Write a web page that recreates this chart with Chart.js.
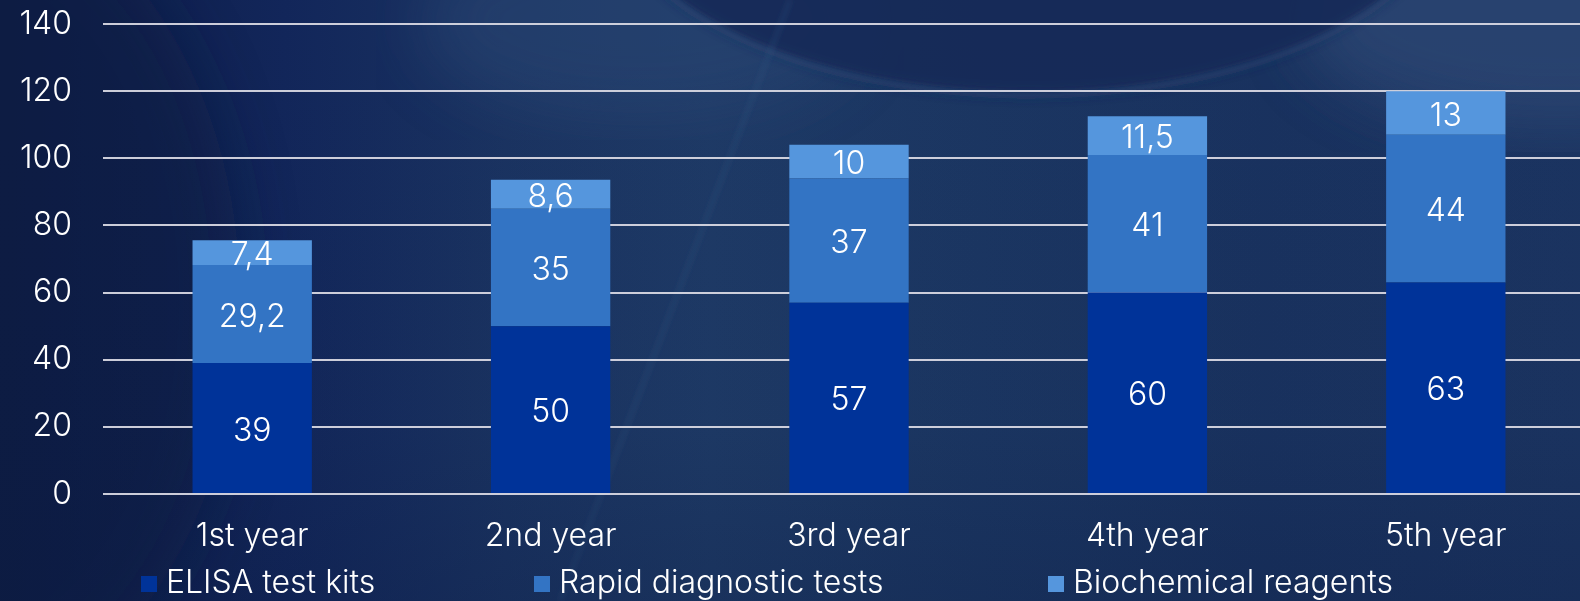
<!DOCTYPE html>
<html>
<head>
<meta charset="utf-8">
<script src="https://cdn.jsdelivr.net/npm/chart.js@4"></script>
<style>
  html, body { margin: 0; padding: 0; width: 1580px; height: 601px; overflow: hidden; background: #132858; }
  #bg { position: absolute; left: 0; top: 0; }
  #wrap { position: absolute; left: 0; top: 0; width: 1600px; height: 601px; }
</style>
</head>
<body>
<svg id="bg" width="1580" height="601" viewBox="0 0 1580 601">
  <defs>
    <linearGradient id="base" x1="0" y1="0" x2="1" y2="0">
      <stop offset="0" stop-color="#0e1c45"/>
      <stop offset="0.18" stop-color="#12265a"/>
      <stop offset="0.32" stop-color="#1a3361"/>
      <stop offset="0.45" stop-color="#1e3a66"/>
      <stop offset="0.62" stop-color="#1b3662"/>
      <stop offset="0.8" stop-color="#19325f"/>
      <stop offset="1" stop-color="#1b3461"/>
    </linearGradient>
    <linearGradient id="vshade" x1="0" y1="0" x2="0" y2="1">
      <stop offset="0" stop-color="#0b1a40" stop-opacity="0"/>
      <stop offset="0.7" stop-color="#0b1a40" stop-opacity="0.05"/>
      <stop offset="1" stop-color="#0b1a40" stop-opacity="0.25"/>
    </linearGradient>
    <filter id="b6"><feGaussianBlur stdDeviation="6"/></filter>
    <filter id="b30"><feGaussianBlur stdDeviation="30"/></filter>
    <filter id="b3"><feGaussianBlur stdDeviation="2.5"/></filter>
  </defs>
  <rect width="1580" height="601" fill="url(#base)"/>
  <ellipse cx="640" cy="20" rx="220" ry="100" fill="#2a4774" opacity="0.5" filter="url(#b30)"/>
  <ellipse cx="1560" cy="20" rx="260" ry="110" fill="#2d4a76" opacity="0.7" filter="url(#b30)"/>
  <ellipse cx="1030" cy="-110" rx="420" ry="205" fill="#132a59" opacity="0.92" filter="url(#b6)"/>
  <ellipse cx="1030" cy="-110" rx="420" ry="205" fill="none" stroke="#4c6a96" stroke-opacity="0.3" stroke-width="4" filter="url(#b3)"/>
  <line x1="790" y1="0" x2="560" y2="601" stroke="#3a5a88" stroke-opacity="0.22" stroke-width="5" filter="url(#b3)"/>
  <ellipse cx="-60" cy="300" rx="300" ry="420" fill="#0c1a42" opacity="0.55" filter="url(#b30)"/>
  <rect width="1580" height="601" fill="url(#vshade)"/>
</svg>
<div id="wrap"><canvas id="c" width="1600" height="601"></canvas></div>
<script>
const categories = ['1st year', '2nd year', '3rd year', '4th year', '5th year'];
const seriesNames = ['ELISA test kits', 'Rapid diagnostic tests', 'Biochemical reagents'];
const elisa = [39, 50, 57, 60, 63];
const rapid = [29.2, 35, 37, 41, 44];
const biochem = [7.4, 8.6, 10, 11.5, 13];
const yTicks = [0, 20, 40, 60, 80, 100, 120, 140];

const colors = ['#003399', '#3374C4', '#5596DD'];
const FONT = 'Inter, "DejaVu Sans", sans-serif';
const FSIZE = 32;
const FWEIGHT = '300';
const fmt = v => String(v).replace('.', ',');

const valueLabels = {
  id: 'valueLabels',
  afterDatasetsDraw(chart) {
    const ctx = chart.ctx;
    ctx.save();
    ctx.fillStyle = '#ffffff';
    ctx.font = FWEIGHT + ' ' + FSIZE + 'px ' + FONT;
    ctx.textAlign = 'center';
    ctx.textBaseline = 'middle';
    chart.data.datasets.forEach((ds, di) => {
      const meta = chart.getDatasetMeta(di);
      meta.data.forEach((el, i) => {
        const p = el.getProps(['x', 'y', 'base'], true);
        ctx.fillText(fmt(ds.data[i]), p.x, (p.y + p.base) / 2 + 3);
      });
    });
    ctx.restore();
  }
};

const legendBoxX = [141, 534, 1048];
const customLegend = {
  id: 'customLegend',
  afterDraw(chart) {
    const ctx = chart.ctx;
    ctx.save();
    ctx.font = FWEIGHT + ' ' + FSIZE + 'px ' + FONT;
    ctx.textBaseline = 'alphabetic';
    ctx.textAlign = 'left';
    chart.data.datasets.forEach((ds, i) => {
      const x = legendBoxX[i];
      ctx.fillStyle = ds.backgroundColor;
      ctx.fillRect(x, 576, 16, 16);
      ctx.fillStyle = '#ffffff';
      ctx.fillText(ds.label, x + 25, 593);
    });
    ctx.restore();
  }
};

new Chart(document.getElementById('c'), {
  type: 'bar',
  data: {
    labels: categories,
    datasets: [
      { label: seriesNames[0], data: elisa, backgroundColor: colors[0] },
      { label: seriesNames[1], data: rapid, backgroundColor: colors[1] },
      { label: seriesNames[2], data: biochem, backgroundColor: colors[2] }
    ]
  },
  options: {
    responsive: false,
    devicePixelRatio: 1,
    animation: false,
    layout: { padding: { top: 24, right: 5, bottom: 48, left: 0 } },
    datasets: { bar: { barPercentage: 0.4, categoryPercentage: 1.0, borderWidth: 0 } },
    plugins: { legend: { display: false }, tooltip: { enabled: false } },
    scales: {
      x: {
        stacked: true,
        afterFit(scale) { scale.height = 59; scale.paddingLeft = 0; scale.paddingRight = 0; },
        grid: { display: false, drawTicks: false },
        border: { display: false },
        ticks: { color: '#ffffff', font: { family: FONT, size: FSIZE, weight: FWEIGHT }, padding: 23 }
      },
      y: {
        stacked: true,
        min: 0, max: 140,
        afterBuildTicks(scale) { scale.ticks = yTicks.map(v => ({ value: v })); },
        afterFit(scale) { scale.width = 103; scale.paddingTop = 0; scale.paddingBottom = 0; },
        grid: { color: 'rgba(215,215,225,0.95)', lineWidth: 2, drawTicks: false },
        border: { display: false },
        ticks: { color: '#ffffff', font: { family: FONT, size: FSIZE, weight: FWEIGHT }, padding: 31 }
      }
    }
  },
  plugins: [valueLabels, customLegend]
});
</script>
</body>
</html>
